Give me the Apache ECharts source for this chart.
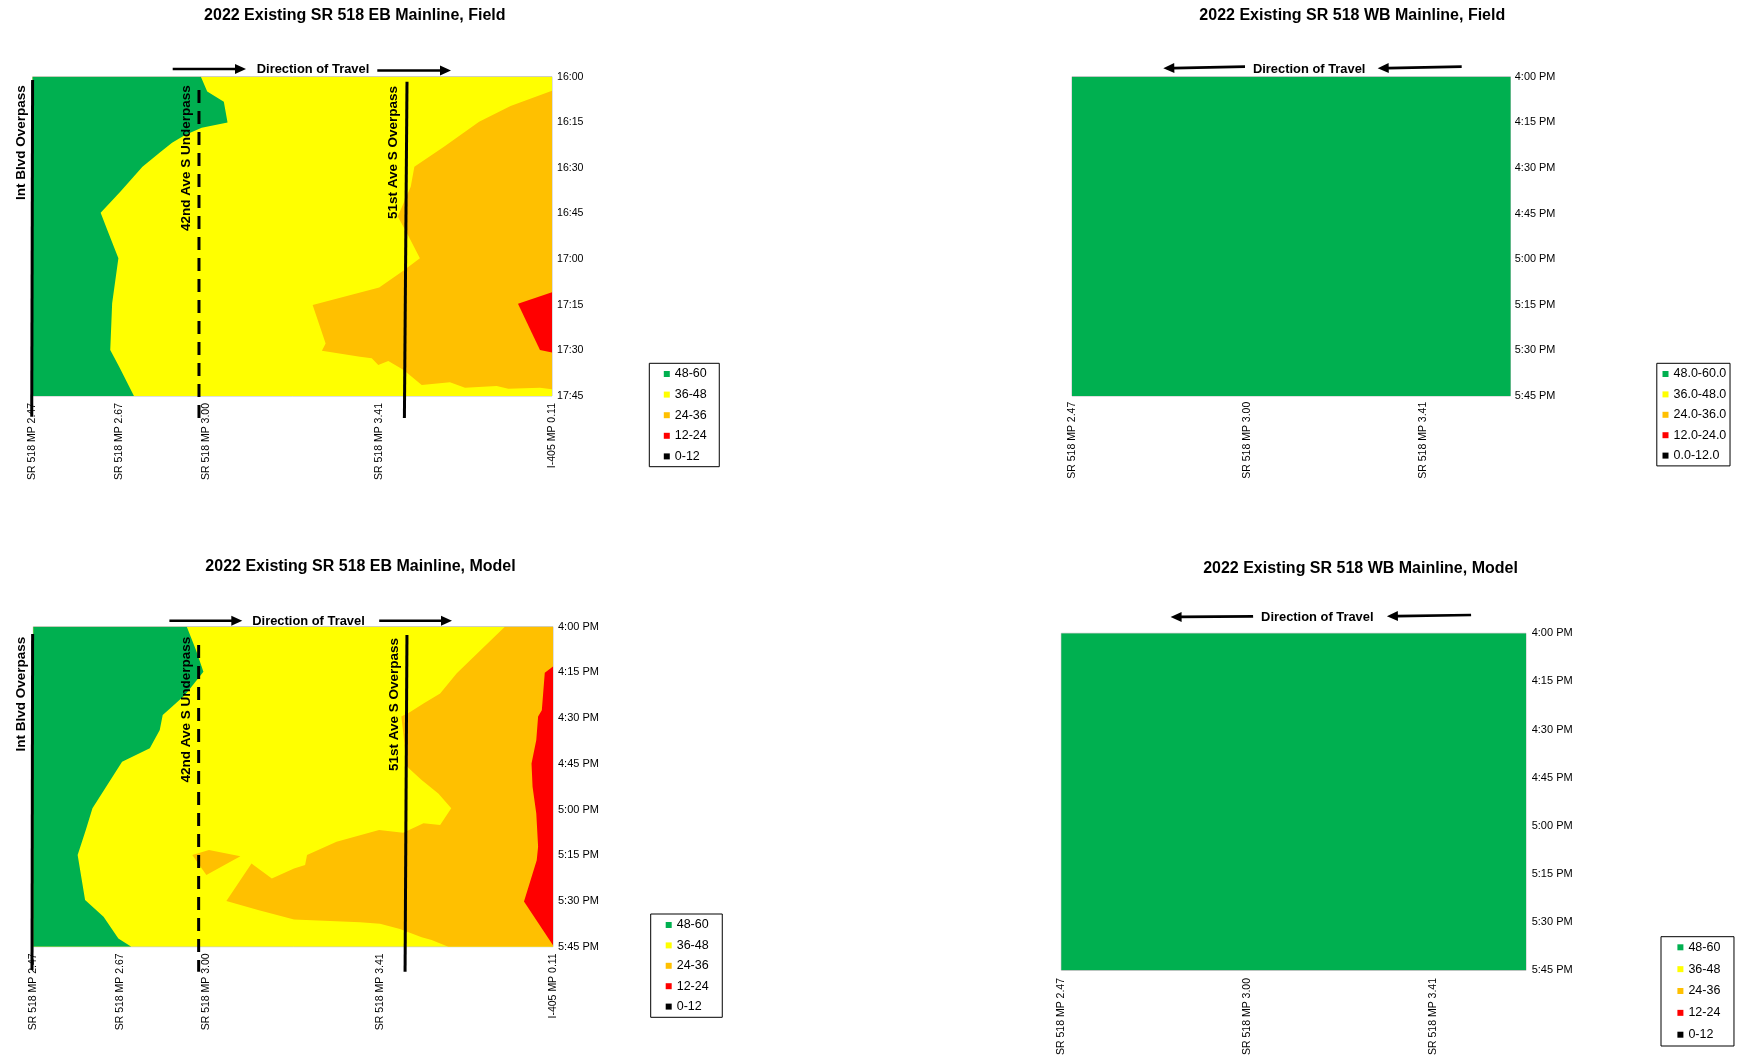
<!DOCTYPE html>
<html>
<head>
<meta charset="utf-8">
<title>2022 Existing SR 518 Mainline Speed Contours</title>
<script src="https://cdn.jsdelivr.net/npm/echarts@6/dist/echarts.min.js"></script>
<style>
  html, body { margin: 0; padding: 0; background: #ffffff; }
  #chart { width: 1739px; height: 1058px; }
</style>
</head>
<body>
<div id="chart"></div>
<script>
// ---------------- DATA ----------------
// x = location index along corridor, t = minutes after 4:00 PM
const ebLocations = ['SR 518 MP 2.47', 'SR 518 MP 2.67', 'SR 518 MP 3.00', '', 'SR 518 MP 3.41', '', 'I-405 MP 0.11'];
const wbLocations = ['SR 518 MP 2.47', '', 'SR 518 MP 3.00', '', 'SR 518 MP 3.41', ''];
const timeLabels24 = ['16:00', '16:15', '16:30', '16:45', '17:00', '17:15', '17:30', '17:45'];
const timeLabelsPM = ['4:00 PM', '4:15 PM', '4:30 PM', '4:45 PM', '5:00 PM', '5:15 PM', '5:30 PM', '5:45 PM'];
const speedClasses = ['48-60', '36-48', '24-36', '12-24', '0-12'];
const speedClassesDec = ['48.0-60.0', '36.0-48.0', '24.0-36.0', '12.0-24.0', '0.0-12.0'];
const landmarkNames = ['Int Blvd Overpass', '42nd Ave S Underpass', '51st Ave S Overpass'];
// landmark location [at 4:00 PM edge, at 5:45 PM edge]
const ebFieldLandmarks = [[0, -0.01], [1.922, 1.922], [4.325, 4.295]];
const ebModelLandmarks = [[-0.008, -0.015], [1.909, 1.909], [4.314, 4.292]];

// EB Field contour regions
const ebFieldYellow = [[[0, 0], [6, 0], [6, 105], [0, 105]]];
const ebFieldGreen = [[[0, 0], [1.944, 0], [2.017, 4.9], [2.209, 8.2], [2.252, 15.1], [1.953, 16.8], [1.761, 19.2], [1.611, 21.7], [1.470, 24.9], [1.269, 29.6], [1.013, 37.8], [0.786, 44.7], [0.863, 50.4], [0.991, 59.7], [0.919, 74.5], [0.897, 89.9], [1.0, 95.4], [1.171, 105], [0, 105]]];
const ebFieldOrange = [[[6, 4.6], [5.521, 9.6], [5.158, 14.8], [4.752, 23.0], [4.410, 29.6], [4.368, 36.2], [4.218, 46.0], [4.325, 51.5], [4.474, 59.7], [4.282, 63.8], [4.004, 69.3], [3.235, 75.1], [3.385, 87.7], [3.342, 90.1], [3.782, 92.1], [3.918, 92.6], [3.993, 94.8], [4.109, 93.5], [4.282, 96.4], [4.495, 101.4], [4.821, 100.5], [4.995, 102.3], [5.361, 101.7], [5.495, 102.6], [5.861, 102.3], [6, 102.8]]];
const ebFieldRed = [[[5.607, 74.7], [6, 70.9], [6, 90.7], [5.861, 89.9]]];

// EB Model contour regions
const ebModelYellow = [[[0, 0], [6, 0], [6, 105], [0, 105]]];
const ebModelGreen = [[[0, 0], [1.772, 0], [1.879, 7.7], [1.964, 14.8], [1.751, 22.4], [1.601, 26.3], [1.494, 29.0], [1.460, 33.9], [1.345, 39.9], [1.025, 44.3], [0.683, 59.6], [0.606, 66.7], [0.512, 74.9], [0.598, 89.7], [0.811, 95.2], [0.982, 102.3], [1.132, 105], [0, 105]]];
const ebModelOrange = [
  [[5.444, 0], [6, 0], [6, 105], [4.791, 105], [4.599, 102.8], [4.484, 101.9], [4.233, 99.2], [4.003, 97.5], [3.772, 97.0], [3.010, 96.1], [2.605, 93.0], [2.229, 90.0], [2.519, 77.7], [2.754, 82.6], [3.010, 79.3], [3.138, 78.2], [3.160, 74.9], [3.501, 70.6], [3.992, 66.7], [4.270, 67.6], [4.505, 64.5], [4.697, 65.1], [4.825, 59.6], [4.676, 54.7], [4.483, 50.3], [4.313, 45.9], [4.270, 34.5], [4.249, 29.5], [4.355, 27.9], [4.505, 25.2], [4.697, 21.9], [4.889, 15.3]],
  [[1.836, 74.9], [2.028, 73.3], [2.391, 75.3], [1.998, 81.5]]
];
const ebModelRed = [[[6, 13.1], [5.905, 15.1], [5.871, 27.4], [5.828, 29.5], [5.807, 37.2], [5.752, 44.9], [5.764, 52.5], [5.807, 61.3], [5.828, 72.2], [5.812, 76.6], [5.665, 90.2], [6, 104.5]]];

// WB contour regions (free flow everywhere)
const wbFieldGreen = [[[0, 0], [5, 0], [5, 105], [0, 105]]];
const wbModelGreen = [[[0, 0], [5, 0], [5, 105], [0, 105]]];

// ---------------- STYLE ----------------
const FONT = "'Liberation Sans', Arial, Helvetica, sans-serif";
const classColors = ['#00B050', '#FFFF00', '#FFC000', '#FF0000', '#000000'];

const chart = echarts.init(document.getElementById('chart'), null, { renderer: 'canvas' });

function contourSeries(gi, name, color, polys) {
  return {
    type: 'custom', name: name, xAxisIndex: gi, yAxisIndex: gi, clip: true, silent: true,
    itemStyle: { color: color },
    data: polys.map(p => p[0]),
    renderItem: function (params, api) {
      const pts = polys[params.dataIndex].map(p => api.coord(p));
      return { type: 'polygon', shape: { points: pts }, style: { fill: color } };
    }
  };
}

function landmarkSeries(gi, marks, cfg) {
  return {
    type: 'custom', name: 'landmarks', xAxisIndex: gi, yAxisIndex: gi, clip: false, silent: true, z: 5,
    data: marks.map(m => [m[0], 0]),
    renderItem: function (params, api) {
      const i = params.dataIndex;
      const m = marks[i];
      const c = cfg[i];
      const top = api.coord([m[0], 0]);
      const bot = api.coord([m[1], 105]);
      return {
        type: 'group',
        children: [
          {
            type: 'line',
            shape: { x1: top[0], y1: top[1] + c.top, x2: bot[0], y2: bot[1] + c.bottom },
            style: { stroke: '#000', lineWidth: 3, lineDash: c.dash ? [13, 8] : null, lineCap: 'butt' }
          },
          {
            type: 'text', x: top[0] + c.dx, y: top[1] + c.ty, rotation: Math.PI / 2,
            style: {
              text: landmarkNames[i], fill: '#000', fontSize: 13.5, fontWeight: 'bold', fontFamily: FONT,
              align: 'right', verticalAlign: 'middle', textAlign: 'right', textVerticalAlign: 'middle'
            }
          }
        ]
      };
    }
  };
}

const fieldLmCfg = [
  { top: 3.3, bottom: 20.7, dx: -11.6, ty: 8.5, dash: false },
  { top: 13.3, bottom: 22.3, dx: -12.5, ty: 8.5, dash: true },
  { top: 5, bottom: 22, dx: -13.5, ty: 9.3, dash: false }
];
const modelLmCfg = [
  { top: 7.3, bottom: 23.3, dx: -11.6, ty: 10, dash: false },
  { top: 18.3, bottom: 25, dx: -12.5, ty: 10, dash: true },
  { top: 8.3, bottom: 25, dx: -13, ty: 11.3, dash: false }
];

function xAxisDef(gi, labels, max, margin) {
  return {
    type: 'value', gridIndex: gi, min: 0, max: max, interval: 1,
    axisLine: { show: false }, axisTick: { show: false }, splitLine: { show: false },
    axisLabel: {
      rotate: 90, margin: margin, fontSize: 10.5, color: '#000', fontFamily: FONT,
      formatter: v => labels[Math.round(v)] || ''
    }
  };
}
function yAxisDef(gi, labels, fs, margin) {
  return {
    type: 'value', gridIndex: gi, min: 0, max: 105, interval: 15, inverse: true, position: 'right',
    axisLine: { show: false }, axisTick: { show: false }, splitLine: { show: false },
    axisLabel: {
      margin: margin, fontSize: fs, color: '#000', fontFamily: FONT,
      formatter: v => labels[Math.round(v / 15)] || ''
    }
  };
}
function gridDef(left, top, width, height) {
  return { left: left, top: top, width: width, height: height, show: true, borderColor: '#bfbfbf', borderWidth: 1, backgroundColor: 'transparent' };
}
function legendDef(names, left, top, gap, padding) {
  return {
    orient: 'vertical', left: left, top: top, itemWidth: 6, itemHeight: 6, itemGap: gap, icon: 'rect',
    padding: padding, borderColor: '#000', borderWidth: 1, selectedMode: false,
    data: names,
    textStyle: { fontSize: 12.5, color: '#000', fontFamily: FONT, lineHeight: 14 }
  };
}
function titleDef(text, cx, top) {
  return { text: text, left: cx, top: top, textAlign: 'center', padding: 0,
    textStyle: { fontSize: 16, fontWeight: 'bold', color: '#000', fontFamily: FONT } };
}
function arrow(x1, y1, x2, y2, w) {
  const L = 11, H = 5;
  const dx = x2 - x1, dy = y2 - y1, len = Math.hypot(dx, dy);
  const ux = dx / len, uy = dy / len;
  const bx = x2 - ux * L, by = y2 - uy * L;
  return [
    { type: 'line', shape: { x1: x1, y1: y1, x2: bx + ux, y2: by + uy }, style: { stroke: '#000', lineWidth: w } },
    { type: 'polygon', shape: { points: [[x2, y2], [bx - uy * H, by + ux * H], [bx + uy * H, by - ux * H]] }, style: { fill: '#000' } }
  ];
}
function dirText(cx, cy) {
  return { type: 'text', x: cx, y: cy, style: { text: 'Direction of Travel', fill: '#000', fontSize: 12.9, fontWeight: 'bold', fontFamily: FONT, align: 'center', verticalAlign: 'middle', textAlign: 'center', textVerticalAlign: 'middle' } };
}

const series = [];
// grid 0: EB Field
series.push(contourSeries(0, speedClasses[1], classColors[1], ebFieldYellow));
series.push(contourSeries(0, speedClasses[0], classColors[0], ebFieldGreen));
series.push(contourSeries(0, speedClasses[2], classColors[2], ebFieldOrange));
series.push(contourSeries(0, speedClasses[3], classColors[3], ebFieldRed));
series.push(contourSeries(0, speedClasses[4], classColors[4], []));
series.push(landmarkSeries(0, ebFieldLandmarks, fieldLmCfg));
// grid 1: WB Field
series.push(contourSeries(1, speedClassesDec[0], classColors[0], wbFieldGreen));
series.push(contourSeries(1, speedClassesDec[1], classColors[1], []));
series.push(contourSeries(1, speedClassesDec[2], classColors[2], []));
series.push(contourSeries(1, speedClassesDec[3], classColors[3], []));
series.push(contourSeries(1, speedClassesDec[4], classColors[4], []));
// grid 2: EB Model
series.push(contourSeries(2, speedClasses[1], classColors[1], ebModelYellow));
series.push(contourSeries(2, speedClasses[0], classColors[0], ebModelGreen));
series.push(contourSeries(2, speedClasses[2], classColors[2], ebModelOrange));
series.push(contourSeries(2, speedClasses[3], classColors[3], ebModelRed));
series.push(contourSeries(2, speedClasses[4], classColors[4], []));
series.push(landmarkSeries(2, ebModelLandmarks, modelLmCfg));
// grid 3: WB Model
series.push(contourSeries(3, speedClasses[0], classColors[0], wbModelGreen));
series.push(contourSeries(3, speedClasses[1], classColors[1], []));
series.push(contourSeries(3, speedClasses[2], classColors[2], []));
series.push(contourSeries(3, speedClasses[3], classColors[3], []));
series.push(contourSeries(3, speedClasses[4], classColors[4], []));

const graphics = [].concat(
  [dirText(313, 69.3)], arrow(172.7, 69, 246, 69, 2.6), arrow(377.3, 70.5, 451, 70.5, 2.6),
  [dirText(308.5, 621.7)], arrow(169.4, 620.7, 242.3, 620.7, 2.6), arrow(379.2, 620.7, 452, 620.7, 2.6),
  [dirText(1309.2, 69.3)], arrow(1245, 66.7, 1163.3, 68.3, 2.7), arrow(1461.7, 66.7, 1377.7, 68.3, 2.7),
  [dirText(1317.3, 617.7)], arrow(1253.1, 616.3, 1170.6, 617, 2.7), arrow(1471.1, 615, 1386.9, 616.2, 2.7)
);

const option = {
  animation: false,
  backgroundColor: '#ffffff',
  title: [
    titleDef('2022 Existing SR 518 EB Mainline, Field', 354.8, 7.7),
    titleDef('2022 Existing SR 518 WB Mainline, Field', 1352.3, 7.4),
    titleDef('2022 Existing SR 518 EB Mainline, Model', 360.5, 559),
    titleDef('2022 Existing SR 518 WB Mainline, Model', 1360.5, 560.3)
  ],
  legend: [
    legendDef(speedClasses, 649.3, 363.3, 6.6, [3.7, 12.5, 3.3, 14.5]),
    legendDef(speedClassesDec, 1656.8, 363.3, 6.4, [3.7, 3.7, 3.3, 5.7]),
    legendDef(speedClasses, 650.7, 914, 6.4, [4, 13.6, 3.7, 15]),
    legendDef(speedClasses, 1661, 936.7, 7.85, [3.6, 13.6, 4.3, 16.4])
  ],
  grid: [
    gridDef(32.6, 76.7, 519.4, 319.3),
    gridDef(1072, 76.7, 438.5, 319.3),
    gridDef(33.3, 626.7, 519.7, 320),
    gridDef(1061.3, 633.3, 464.7, 337.4)
  ],
  xAxis: [
    xAxisDef(0, ebLocations, 6, 7),
    xAxisDef(1, wbLocations, 5, 5.7),
    xAxisDef(2, ebLocations, 6, 6.6),
    xAxisDef(3, wbLocations, 5, 7.6)
  ],
  yAxis: [
    yAxisDef(0, timeLabels24, 10.6, 5),
    yAxisDef(1, timeLabelsPM, 10.9, 4.3),
    yAxisDef(2, timeLabelsPM, 11, 5),
    yAxisDef(3, timeLabelsPM, 11, 5.7)
  ],
  series: series,
  graphic: graphics
};
chart.setOption(option);
</script>
</body>
</html>
